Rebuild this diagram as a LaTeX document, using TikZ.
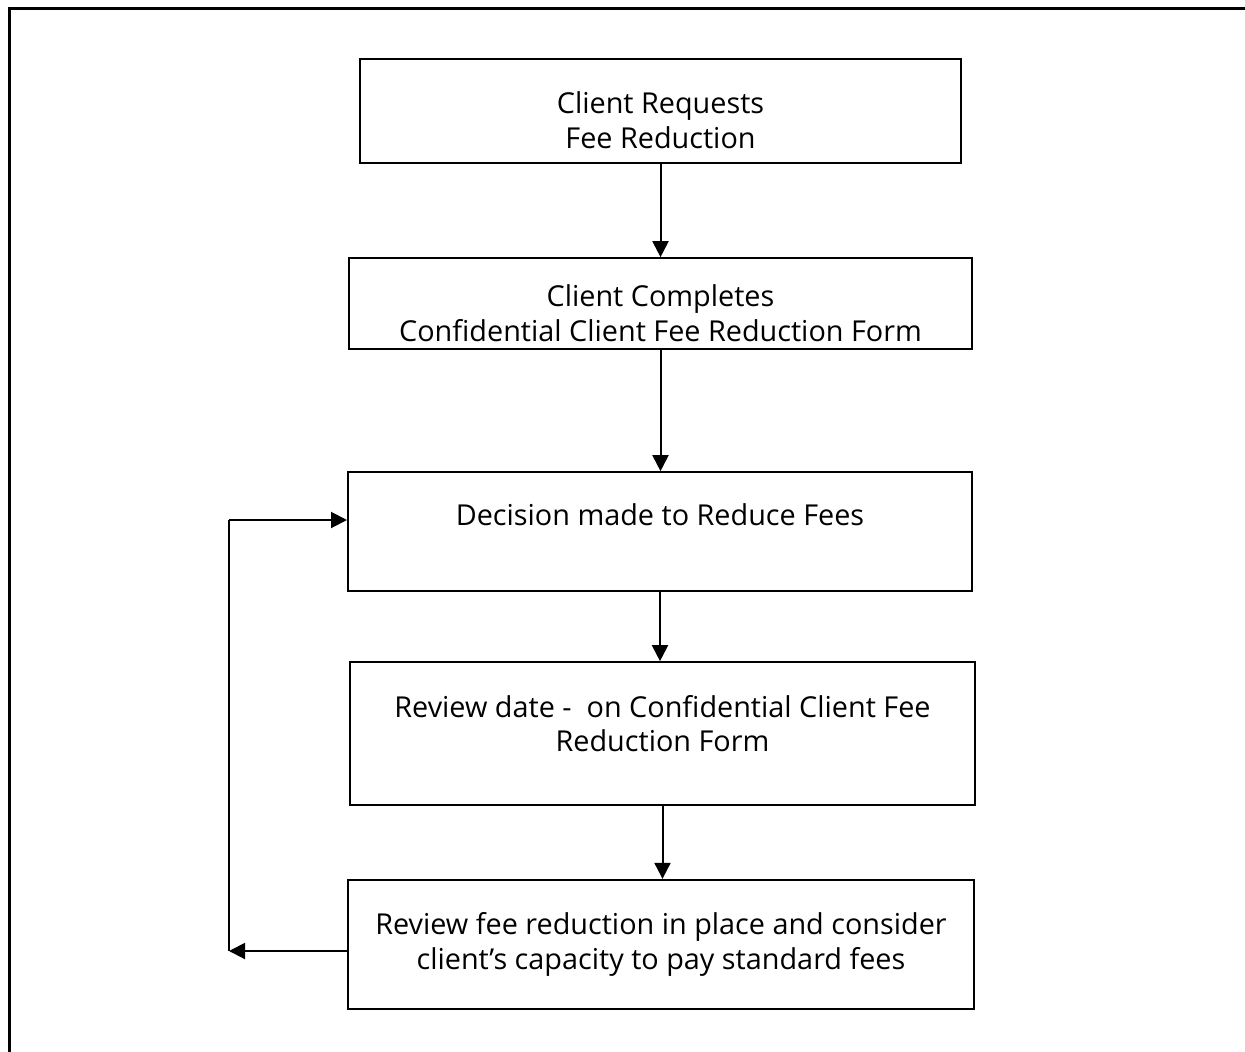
\documentclass[tikz,border=0pt]{standalone}
\usepackage{fontspec}
\setmainfont{Open Sans}
\usetikzlibrary{arrows.meta}

\begin{document}
\begin{tikzpicture}[x=0.75pt,y=0.75pt,yscale=-1,xscale=1,
  stepbox/.style={draw,line width=1.5pt,align=center,inner sep=0pt,
    font=\fontsize{21.6}{26}\selectfont},
  flow/.style={line width=1.5pt,-{Triangle[length=12pt,width=12pt]}}]
                \useasboundingbox (0,0) rectangle (1245,1052);
                % Outer frame
                \draw [line width=2.25pt] (1245,9) -- (9,9) -- (9,1052) ;
                % Steps
                \node [stepbox,minimum width=451pt,minimum height=78pt] (request) at (660.5,111) {\mbox{}\\[4pt]Client Requests\\Fee Reduction};
                \node [stepbox,minimum width=467pt,minimum height=68pt] (complete) at (660.5,303.5) {\mbox{}\\[5pt]Client Completes\\Confidential Client Fee Reduction Form};
                \node [stepbox,minimum width=468pt,minimum height=89pt] (decision) at (660,531.5) {Decision made to Reduce Fees\\\mbox{}};
                \node [stepbox,minimum width=469pt,minimum height=107pt] (reviewdate) at (662.5,733.5) {Review date -~ on Confidential Client Fee\\Reduction Form\\[-11pt]\mbox{}};
                \node [stepbox,minimum width=470pt,minimum height=97pt] (reviewfee) at (661,944.5) {Review fee reduction in place and consider\\client’s capacity to pay standard fees};
                % Arrows down
                \draw [flow] (request.south) -- (request.south |- complete.north) ;
                \draw [flow] (complete.south) -- (complete.south |- decision.north) ;
                \draw [flow] (decision.south) -- (decision.south |- reviewdate.north) ;
                \draw [flow] (reviewdate.south) -- (reviewdate.south |- reviewfee.north) ;
                % Loop back
                \coordinate (loopbot) at (229,951) ;
                \coordinate (looptop) at (229,520) ;
                \draw [flow] (reviewfee.west |- loopbot) -- (loopbot) ;
                \draw [line width=1.5pt] (loopbot) -- (looptop) ;
                \draw [flow] (looptop) -- (decision.west |- looptop) ;
\end{tikzpicture}
\end{document}
